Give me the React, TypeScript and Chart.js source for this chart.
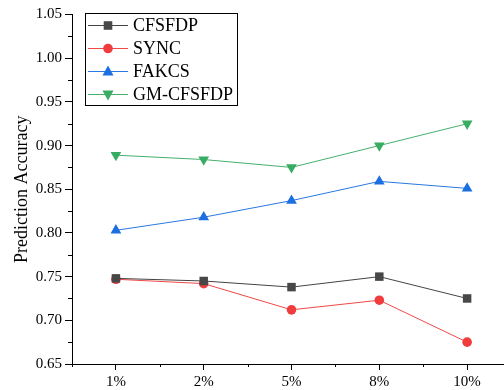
import React, { useEffect, useRef } from "react";
import { Chart, registerables } from "chart.js";

Chart.register(...registerables);

const categories = ["1%", "2%", "5%", "8%", "10%"];
const cfsfdp = [0.748, 0.745, 0.738, 0.75, 0.725];
const sync = [0.747, 0.742, 0.712, 0.723, 0.675];
const fakcs = [0.803, 0.818, 0.837, 0.859, 0.851];
const gmCfsfdp = [0.889, 0.884, 0.875, 0.9, 0.925];

const seriesNames = ["CFSFDP", "SYNC", "FAKCS", "GM-CFSFDP"];
const seriesData = [cfsfdp, sync, fakcs, gmCfsfdp];
const seriesColors = ["#474747", "#f03c3c", "#1c6fe0", "#38ac62"];
const lineColors = ["#444444", "#f04848", "#2a78e2", "#44b06c"];
const seriesShapes = ["rect", "circle", "triangle", "triangleDown"];

const FONT = "'Liberation Serif', 'Times New Roman', serif";

function drawMarker(ctx: CanvasRenderingContext2D, shape: string, x: number, y: number, color: string) {
  ctx.save();
  ctx.fillStyle = color;
  ctx.beginPath();
  if (shape === "rect") {
    ctx.rect(x - 4.3, y - 4.3, 8.6, 8.6);
  } else if (shape === "circle") {
    ctx.arc(x, y, 4.8, 0, Math.PI * 2);
  } else if (shape === "triangle") {
    ctx.moveTo(x, y - 6);
    ctx.lineTo(x + 5.5, y + 4);
    ctx.lineTo(x - 5.5, y + 4);
    ctx.closePath();
  } else {
    ctx.moveTo(x, y + 6);
    ctx.lineTo(x + 5.5, y - 4);
    ctx.lineTo(x - 5.5, y - 4);
    ctx.closePath();
  }
  ctx.fill();
  ctx.restore();
}

const extrasPlugin = {
  id: "extras",
  afterDraw(chart: any) {
    const ctx: CanvasRenderingContext2D = chart.ctx;
    const xs = chart.scales.x;
    const ys = chart.scales.y;
    const area = chart.chartArea;
    ctx.save();
    ctx.strokeStyle = "#000";
    ctx.lineWidth = 1;
    // minor y ticks
    for (let v = 0.675; v < 1.05; v += 0.05) {
      const py = Math.round(ys.getPixelForValue(v)) + 0.5;
      ctx.beginPath();
      ctx.moveTo(area.left, py);
      ctx.lineTo(area.left - 4, py);
      ctx.stroke();
    }
    // minor x ticks
    for (let v = -0.5; v <= 4.5; v += 1) {
      const px = Math.round(xs.getPixelForValue(v)) + 0.5;
      if (px > area.right) continue;
      ctx.beginPath();
      ctx.moveTo(px, area.bottom);
      ctx.lineTo(px, area.bottom + 3);
      ctx.stroke();
    }
    // legend
    const bx = 85.5, by = 13.5, bw = 152, bh = 92;
    ctx.strokeStyle = "#000";
    ctx.lineWidth = 1;
    ctx.strokeRect(bx, by, bw, bh);
    ctx.font = `18px ${FONT}`;
    ctx.textBaseline = "middle";
    ctx.textAlign = "left";
    seriesNames.forEach((name, i) => {
      const cy = 25.5 + i * 23;
      ctx.strokeStyle = lineColors[i];
      ctx.lineWidth = 1;
      ctx.beginPath();
      ctx.moveTo(88, cy);
      ctx.lineTo(128, cy);
      ctx.stroke();
      drawMarker(ctx, seriesShapes[i], 108, cy, seriesColors[i]);
      ctx.fillStyle = "#000";
      ctx.fillText(name, 133, cy + 1);
    });
    ctx.restore();
  },
};

export default function App() {
  const ref = useRef<HTMLCanvasElement | null>(null);
  useEffect(() => {
    if (!ref.current) return;
    const datasets = seriesNames.map((name, i) => ({
      label: name,
      data: seriesData[i].map((y, k) => ({ x: k, y })),
      borderColor: lineColors[i],
      backgroundColor: seriesColors[i],
      pointBackgroundColor: seriesColors[i],
      pointBorderColor: seriesColors[i],
      pointBorderWidth: 0,
      borderWidth: 1,
      pointStyle: seriesShapes[i] === "triangleDown" ? "triangle" : seriesShapes[i],
      pointRotation: seriesShapes[i] === "triangleDown" ? 180 : 0,
      pointRadius: seriesShapes[i] === "rect" ? 6 : seriesShapes[i] === "circle" ? 4.8 : 6.2,
      tension: 0,
      clip: false,
    }));
    const chart = new Chart(ref.current, {
      type: "line",
      data: { datasets },
      plugins: [extrasPlugin],
      options: {
        animation: false,
        responsive: false,
        devicePixelRatio: 1,
        layout: { autoPadding: false, padding: { top: 14.5, right: 0, left: 0, bottom: 0 } },
        plugins: { legend: { display: false }, tooltip: { enabled: false } },
        scales: {
          x: {
            type: "linear",
            min: -0.5,
            max: 4.42,
            afterBuildTicks: (scale: any) => {
              scale.ticks = categories.map((_, i) => ({ value: i }));
            },
            afterFit: (scale: any) => {
              scale.height = 26;
              scale.paddingLeft = 0;
              scale.paddingRight = 0;
            },
            grid: { display: true, drawOnChartArea: false, drawTicks: true, tickLength: 6, color: "#000" },
            border: { display: true, color: "#000", width: 1 },
            ticks: {
              autoSkip: false,
              maxRotation: 0,
              padding: 3,
              color: "#000",
              font: { family: FONT, size: 15 },
              callback: (v: any) => categories[Math.round(Number(v))] ?? "",
            },
          },
          y: {
            min: 0.65,
            max: 1.05,
            afterBuildTicks: (scale: any) => {
              const t = [];
              for (let k = 0; k <= 8; k++) t.push({ value: +(0.65 + k * 0.05).toFixed(2) });
              scale.ticks = t;
            },
            afterFit: (scale: any) => {
              scale.width = 72;
              scale.paddingTop = 0;
              scale.paddingBottom = 0;
            },
            grid: { display: true, drawOnChartArea: false, drawTicks: true, tickLength: 7, color: "#000" },
            border: { display: true, color: "#000", width: 1 },
            ticks: {
              padding: 3,
              color: "#000",
              font: { family: FONT, size: 15 },
              callback: (v: any) => Number(v).toFixed(2),
            },
            title: {
              display: true,
              text: "Prediction Accuracy",
              color: "#000",
              font: { family: FONT, size: 18 },
              padding: { top: 11, bottom: 0 },
            },
          },
        },
      },
    } as any);
    return () => chart.destroy();
  }, []);
  return (
    <div style={{ position: "fixed", left: 0, top: 0, width: 504, height: 390, background: "#fff" }}>
      <canvas ref={ref} width={504} height={390} style={{ width: 504, height: 390, display: "block" }} />
    </div>
  );
}
